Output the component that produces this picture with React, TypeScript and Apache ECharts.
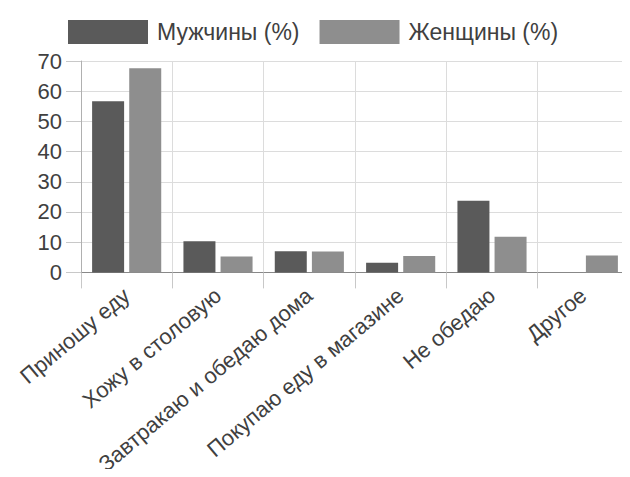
import React, { useEffect, useRef } from "react";
import * as echarts from "echarts";

const categories = [
  "Приношу еду",
  "Хожу в столовую",
  "Завтракаю и обедаю дома",
  "Покупаю еду в магазине",
  "Не обедаю",
  "Другое",
];
const menValues = [56.7, 10.3, 7.0, 3.2, 23.7, 0];
const womenValues = [67.6, 5.3, 6.9, 5.4, 11.8, 5.6];
const seriesNames = ["Мужчины (%)", "Женщины (%)"];
const yTicks = { min: 0, max: 70, interval: 10 };

const FONT = "'Liberation Sans', Arial, sans-serif";
const TEXT = "#404040";

export default function App() {
  const ref = useRef<HTMLDivElement>(null);
  useEffect(() => {
    if (!ref.current) return;
    const chart = echarts.init(ref.current, null, { renderer: "svg" });
    chart.setOption({
      animation: false,
      backgroundColor: "#ffffff",
      textStyle: { fontFamily: FONT },
      legend: {
        top: 15,
        left: 63,
        itemWidth: 80,
        itemHeight: 24,
        itemGap: 20,
        icon: "rect",
        textStyle: { fontSize: 23, color: TEXT, fontFamily: FONT, padding: [0, 0, 0, 4] },
        data: seriesNames,
      },
      grid: { left: 81, right: 1, top: 61, bottom: 200, containLabel: false },
      xAxis: {
        type: "category",
        data: categories,
        boundaryGap: true,
        axisLine: { show: true, lineStyle: { color: "#888", width: 1 } },
        axisTick: { show: true, length: 16, interval: 0, lineStyle: { color: "#c8c8c8" } },
        splitLine: { show: true, interval: 0, lineStyle: { color: "#dcdcdc" } },
        axisLabel: {
          interval: 0,
          rotate: 40,
          margin: 20,
          fontSize: 22,
          color: TEXT,
          fontFamily: FONT,
        },
      },
      yAxis: {
        type: "value",
        min: yTicks.min,
        max: yTicks.max,
        interval: yTicks.interval,
        axisLine: { show: true, lineStyle: { color: "#b0b0b0" } },
        axisTick: { show: true, length: 15, lineStyle: { color: "#c8c8c8" } },
        splitLine: { show: true, lineStyle: { color: "#dcdcdc" } },
        axisLabel: { margin: 19, fontSize: 22, color: TEXT, fontFamily: FONT },
      },
      series: [
        {
          name: seriesNames[0],
          type: "bar",
          data: menValues,
          barWidth: 32,
          barGap: "16%",
          itemStyle: { color: "#5a5a5a" },
        },
        {
          name: seriesNames[1],
          type: "bar",
          data: womenValues,
          barWidth: 32,
          itemStyle: { color: "#8e8e8e" },
        },
      ],
    });
    return () => chart.dispose();
  }, []);
  return <div ref={ref} style={{ width: 630, height: 477, margin: -8 }} />;
}
